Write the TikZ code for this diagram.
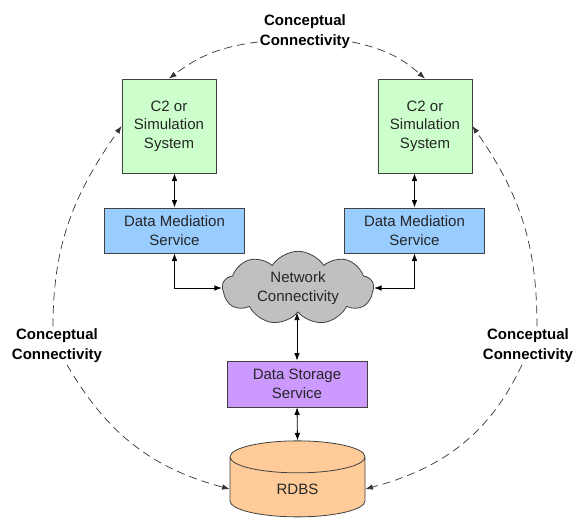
\documentclass[tikz,border=0pt]{standalone}
\usepackage{fontspec}
\setmainfont{Liberation Sans}
\usepackage{tikz}
\usetikzlibrary{arrows.meta, shapes.geometric, shapes.symbols}
\definecolor{sysgreen}{HTML}{CCFFCC}
\definecolor{medblue}{HTML}{99CCFF}
\definecolor{storepurple}{HTML}{CC99FF}
\definecolor{dborange}{HTML}{FFCC99}
\definecolor{netgray}{HTML}{C0C0C0}
\definecolor{edgegray}{HTML}{404040}
\tikzset{
  cbox/.style={draw=edgegray, line width=0.8pt, align=center, inner sep=2pt, font=\fontsize{15}{18.5}\selectfont, text=black!85},
  csys/.style={cbox, fill=sysgreen, minimum width=94pt, minimum height=94pt},
  cmed/.style={cbox, fill=medblue, minimum width=140pt, minimum height=45pt},
  cstore/.style={cbox, fill=storepurple, minimum width=140pt, minimum height=46pt},
  cnet/.style={cbox, cloud, cloud puffs=9, cloud puff arc=115, aspect=2.1, fill=netgray, minimum width=151pt, minimum height=71pt, inner sep=0pt},
  cdb/.style={cbox, cylinder, shape border rotate=90, aspect=0.7, fill=dborange, minimum width=135pt, minimum height=76pt},
  clink/.style={{Latex[length=7.5pt,width=5.5pt]}-{Latex[length=7.5pt,width=5.5pt]}, line width=0.8pt, black},
  cconcept/.style={-{Latex[length=7.5pt,width=5.5pt]}, line width=0.7pt, dash pattern=on 8pt off 5pt, black!80},
  clbl/.style={font=\bfseries\fontsize{15}{20}\selectfont, align=center, inner sep=2pt},
}
\begin{document}
\begin{tikzpicture}[x=1pt, y=-1pt]
    \useasboundingbox (0,0) rectangle (582,521);
    \node[csys] (sysL) at (169,126) {C2 or\\Simulation\\System};
    \node[csys] (sysR) at (425,126) {C2 or\\Simulation\\System};
    \node[cmed] (medL) at (174.5,230.5) {Data Mediation\\Service};
    \node[cmed] (medR) at (414.5,230.5) {Data Mediation\\Service};
    \node[cnet] (net) at (298,288) {Network\\Connectivity};
    \node[cstore] (store) at (297,384) {Data Storage\\Service};
    \node[cdb] (db) at (297.5,489) {RDBS};
    \node[clbl] (lblTop) at (305,32) {Conceptual\\Connectivity};
    \node[clbl] (lblL) at (57,345.5) {Conceptual\\Connectivity};
    \node[clbl] (lblR) at (528,345.5) {Conceptual\\Connectivity};
    % solid links
    \draw[clink] (medL.north |- sysL.south) -- (medL.north);
    \draw[clink] (medR.north |- sysR.south) -- (medR.north);
    \draw[clink] (medL.south) |- (net.west);
    \draw[clink] (medR.south) |- (net.east);
    \draw[clink] (store.north |- net.south) -- (store.north);
    \draw[clink] (store.south) -- (db.north);
    % conceptual links
    \draw[cconcept] ([yshift=-10pt]lblTop.west) to[bend right=15] (sysL.north);
    \draw[cconcept] ([yshift=-10pt]lblTop.east) to[bend left=15] (sysR.north);
    \draw[cconcept] ([xshift=-4pt]lblL.north) to[out=90, in=235] (sysL.west);
    \draw[cconcept] ([xshift=10pt]lblL.south) to[out=-60, in=165] (db.west);
    \draw[cconcept] ([xshift=9pt]lblR.north) to[out=90, in=-55] (sysR.east);
    \draw[cconcept] ([xshift=-6pt]lblR.south) to[out=-115, in=15] (db.east);
\end{tikzpicture}
\end{document}
